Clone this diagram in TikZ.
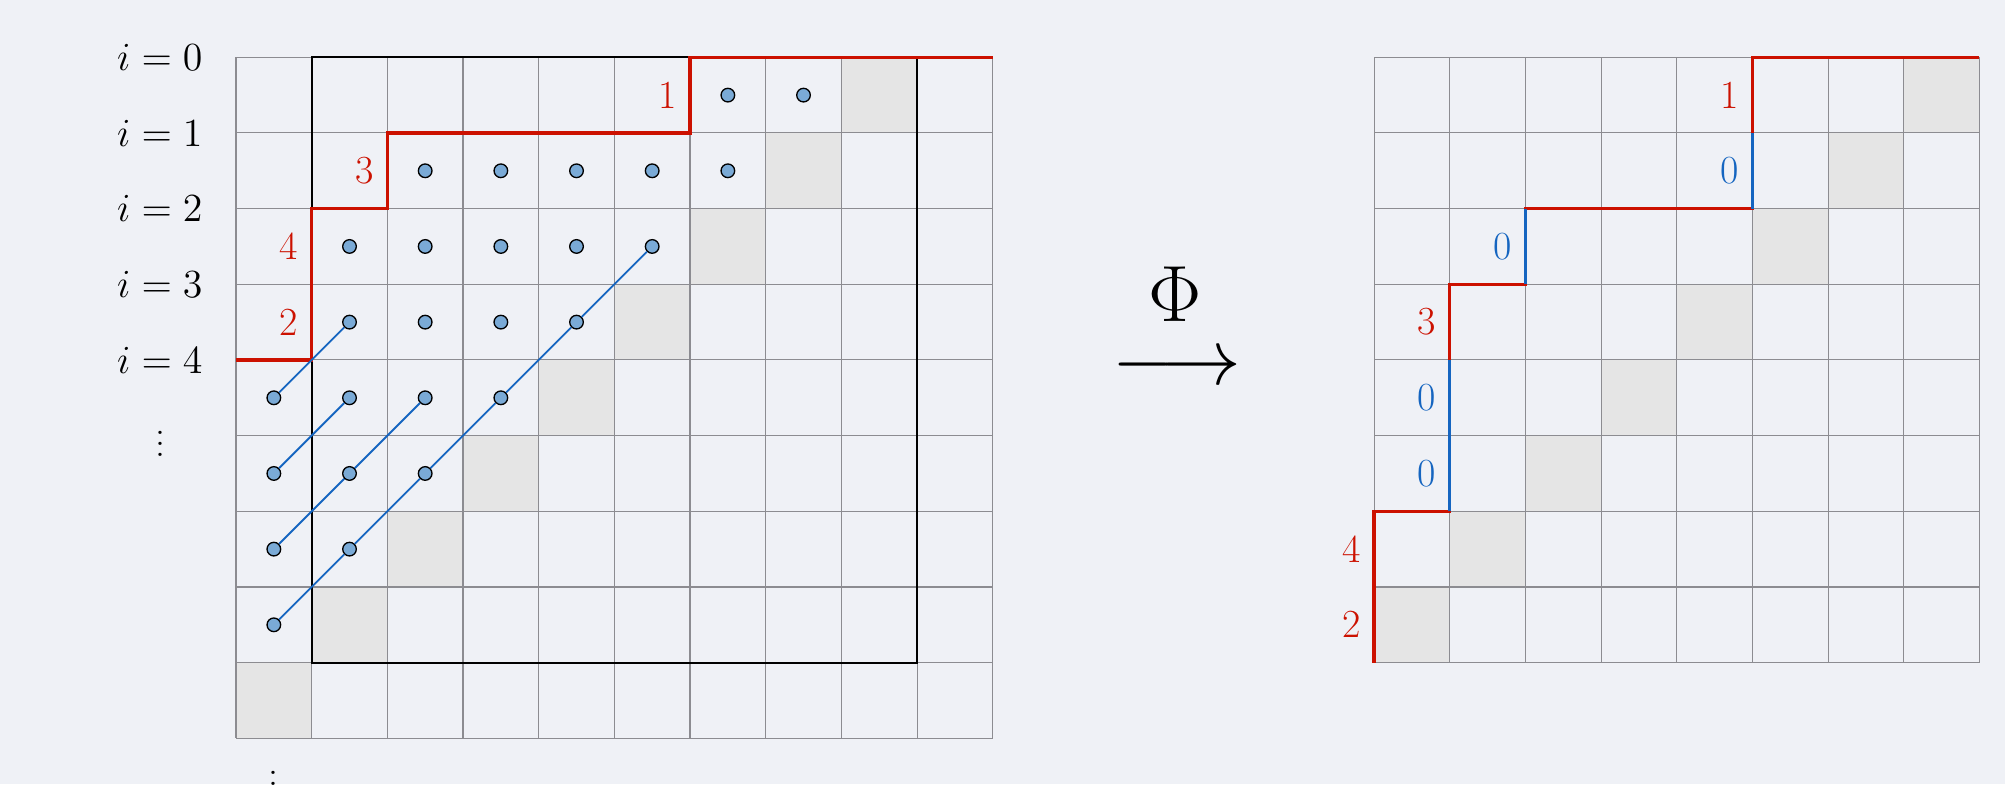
\documentclass[tikz,border=0pt]{standalone}
\usepackage{fix-cm}
\definecolor{bgcol}{RGB}{239,241,246}
\definecolor{shadegray}{RGB}{229,229,229}
\definecolor{gridgray}{RGB}{140,140,145}
\definecolor{pathred}{RGB}{204,17,0}
\definecolor{pathblue}{RGB}{21,101,192}
\definecolor{dotfill}{RGB}{122,170,214}
\tikzset{
  gridline/.style={draw=gridgray, line width=0.4pt},
  shadecell/.style={fill=shadegray},
  framebox/.style={draw=black, line width=0.75pt},
  redpath/.style={draw=pathred, line width=1.2pt, line join=miter},
  bluepath/.style={draw=pathblue, line width=1.2pt},
  diag/.style={draw=pathblue, line width=0.7pt},
  dot/.style={circle, draw=black, line width=0.5pt, fill=dotfill, minimum size=0.18cm, inner sep=0pt},
  lbl/.style={inner sep=0pt},
  rednum/.style={inner sep=0pt, text=pathred},
  bluenum/.style={inner sep=0pt, text=pathblue},
  vd/.style={inner sep=0pt, anchor=base},
  big/.style={inner sep=0pt, anchor=base, font=\fontsize{30}{36}\selectfont}
}
\begin{document}
\begin{tikzpicture}[x=1cm, y=1cm, font=\fontsize{15}{18}\selectfont]
\fill[bgcol] (-3.119,0.757) rectangle (23.378,-9.604);
\useasboundingbox (-3.119,0.757) rectangle (23.378,-9.604);

% ---------- left grid ----------
\foreach \r in {0,...,8} {
  \pgfmathtruncatemacro\c{8-\r}
  \fill[shadecell] (\c,-\r) rectangle ++(1,-1);
}
\foreach \x in {0,...,10} \draw[gridline] (\x,0) -- (\x,-9);
\foreach \y in {0,...,9} \draw[gridline] (0,-\y) -- (10,-\y);
\draw[framebox] (1,0) rectangle (9,-8);
\draw[redpath] (0,-4) -- (1,-4) -- (1,-2) -- (2,-2) -- (2,-1) -- (6,-1) -- (6,0) -- (10,0);

\foreach \r/\c in {0/6,0/7,1/2,1/3,1/4,1/5,1/6,2/1,2/2,2/3,2/4,2/5,3/1,3/2,3/3,3/4,4/0,4/1,4/2,4/3,5/0,5/1,5/2,6/0,6/1,7/0}
  \node[dot] (d\r\c) at (\c+0.5,-\r-0.5) {};
\draw[diag] (d40) -- (d31);
\draw[diag] (d50) -- (d41);
\draw[diag] (d60) -- (d51) -- (d42);
\draw[diag] (d70) -- (d61) -- (d52) -- (d43) -- (d34) -- (d25);

\foreach \k in {0,...,4} \node[lbl] (i\k) at (-1.007,-\k) {$i=\k$};
\node[vd] (vleft) at (-1.0,-5.27) {$\vdots$};
\node[vd] (vbottom) at (0.5,-9.763) {$\vdots$};

\node[rednum] (la) at (5.70,-0.5) {1};
\node[rednum] (lb) at (1.70,-1.5) {3};
\node[rednum] (lc) at (0.70,-2.5) {4};
\node[rednum] (ld) at (0.70,-3.5) {2};

% ---------- map ----------
\node[big] (phi) at (12.41,-3.494) {$\Phi$};
\node[big] (arr) at (12.43,-4.321) {$\longrightarrow$};

% ---------- right grid ----------
\begin{scope}[xshift=15.04cm]
\foreach \r in {0,...,7} {
  \pgfmathtruncatemacro\c{7-\r}
  \fill[shadecell] (\c,-\r) rectangle ++(1,-1);
}
\foreach \x in {0,...,8} \draw[gridline] (\x,0) -- (\x,-8);
\foreach \y in {0,...,8} \draw[gridline] (0,-\y) -- (8,-\y);
\draw[redpath] (0,-8) -- (0,-6) -- (1,-6) -- (1,-3) -- (2,-3) -- (2,-2) -- (5,-2) -- (5,0) -- (8,0);
\draw[bluepath] (1,-6) -- (1,-4);
\draw[bluepath] (2,-3) -- (2,-2);
\draw[bluepath] (5,-2) -- (5,-1);

\node[rednum] (ra) at (4.70,-0.5) {1};
\node[bluenum] (rb) at (4.70,-1.5) {0};
\node[bluenum] (rc) at (1.70,-2.5) {0};
\node[rednum] (rd) at (0.70,-3.5) {3};
\node[bluenum] (re) at (0.70,-4.5) {0};
\node[bluenum] (rf) at (0.70,-5.5) {0};
\node[rednum] (rg) at (-0.30,-6.5) {4};
\node[rednum] (rh) at (-0.30,-7.5) {2};
\end{scope}
\end{tikzpicture}
\end{document}
